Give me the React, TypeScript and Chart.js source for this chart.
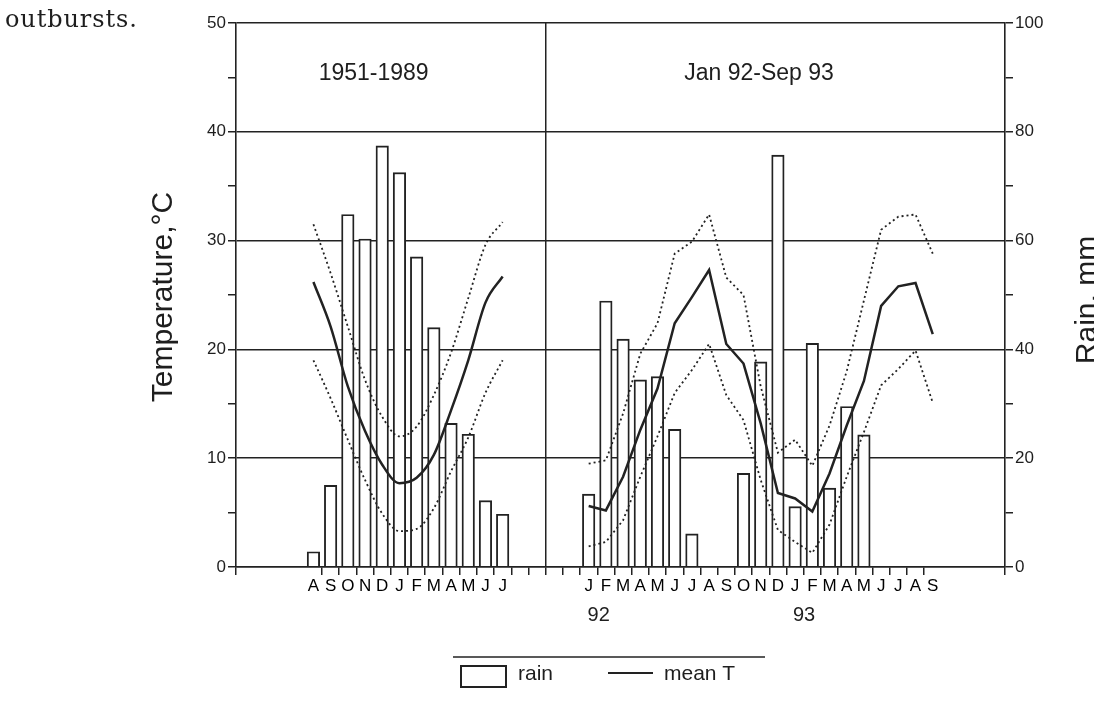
import React, { useEffect, useRef } from 'react';
import { Chart, registerables } from 'chart.js';

Chart.register(...registerables);

// ---- Data ----
const monthsLeft = ['A', 'S', 'O', 'N', 'D', 'J', 'F', 'M', 'A', 'M', 'J', 'J'];
const rainLeft = [2.8, 15.0, 64.8, 60.3, 77.4, 72.5, 57.0, 44.0, 26.4, 24.4, 12.2, 9.7];
const meanTLeft = [26.2, 22.1, 16.6, 12.5, 9.4, 7.7, 8.2, 10.3, 14.4, 19.0, 24.3, 26.7];
const maxTLeft = [31.5, 27.0, 22.1, 17.2, 13.8, 12.0, 12.9, 15.8, 19.7, 24.7, 29.6, 31.7];
const minTLeft = [19.0, 15.5, 11.7, 8.0, 4.9, 3.3, 3.5, 5.4, 8.8, 11.9, 16.0, 19.0];

const monthsRight = ['J', 'F', 'M', 'A', 'M', 'J', 'J', 'A', 'S', 'O', 'N', 'D', 'J', 'F', 'M', 'A', 'M', 'J', 'J', 'A', 'S'];
const rainRight = [13.4, 48.9, 41.9, 34.4, 35.0, 25.3, 6.1, null, null, 17.2, 37.7, 75.7, 11.1, 41.1, 14.5, 29.5, 24.3, null, null, null, null];
const meanTRight = [5.6, 5.2, 8.3, 12.6, 16.4, 22.4, 24.8, 27.3, 20.5, 18.7, 13.2, 6.8, 6.3, 5.1, 8.6, 13.0, 17.1, 24.0, 25.8, 26.1, 21.4];
const maxTRight = [9.5, 9.8, 14.1, 19.6, 22.4, 28.8, 29.9, 32.4, 26.6, 25.0, 16.6, 10.5, 11.7, 9.3, 13.0, 18.0, 24.5, 31.0, 32.2, 32.4, 28.8];
const minTRight = [1.9, 2.3, 4.3, 8.3, 12.0, 16.0, 18.1, 20.5, 15.8, 13.5, 8.0, 3.4, 2.3, 1.3, 3.9, 8.3, 12.4, 16.7, 18.2, 19.9, 15.1];

const tempTicks = [0, 5, 10, 15, 20, 25, 30, 35, 40, 45, 50];
const rainTicks = [0, 10, 20, 30, 40, 50, 60, 70, 80, 90, 100];
const panelTitles = ['1951-1989', 'Jan 92-Sep 93'];
const yearLabels = ['92', '93'];

// ---- Axis layout (month units) ----
const X_MAX = 44.7;
const LEFT_START = 4.5;
const RIGHT_START = 20.5;
const DIVIDER = 18;

const INK = '#222222';
const SANS = '"Liberation Sans", Arial, Helvetica, sans-serif';

const leftXs = monthsLeft.map((_, i) => LEFT_START + i);
const rightXs = monthsRight.map((_, i) => RIGHT_START + i);

const labelMap = new Map<number, string>();
monthsLeft.forEach((m, i) => labelMap.set(Math.round(leftXs[i] * 10), m));
monthsRight.forEach((m, i) => labelMap.set(Math.round(rightXs[i] * 10), m));

const xTicks: number[] = [0];
for (let v = 5; v <= 40; v++) xTicks.push(v);
xTicks.push(X_MAX);
leftXs.forEach((v) => xTicks.push(v));
rightXs.forEach((v) => xTicks.push(v));
xTicks.sort((a, b) => a - b);

const isHalf = (v: number) => Math.abs(v - Math.floor(v) - 0.5) < 1e-6;

const pts = (xs: number[], ys: (number | null)[]) =>
  xs.map((x, i) => ({ x, y: ys[i] })).filter((p) => p.y !== null);

const textPlugin = {
  id: 'extraText',
  afterDraw(chart: any) {
    const ctx = chart.ctx;
    const xs = chart.scales.x;
    ctx.save();
    ctx.fillStyle = '#1e1e1e';
    // top-left fragment of running text
    ctx.font = '24px "DejaVu Serif", "Liberation Serif", serif';
    ctx.textAlign = 'left';
    ctx.textBaseline = 'alphabetic';
    (ctx as any).letterSpacing = '0.9px';
    ctx.fillText('outbursts.', 5, 27);
    (ctx as any).letterSpacing = '0px';

    // axis titles
    ctx.font = `30px ${SANS}`;
    ctx.textAlign = 'center';
    ctx.textBaseline = 'middle';
    ctx.save();
    ctx.translate(164, 297);
    ctx.rotate(-Math.PI / 2);
    ctx.fillText('Temperature,°C', 0, 0);
    ctx.restore();
    ctx.save();
    ctx.translate(1088, 300);
    ctx.rotate(-Math.PI / 2);
    ctx.fillText('Rain, mm', 0, 0);
    ctx.restore();

    // panel titles
    ctx.font = `23px ${SANS}`;
    ctx.textBaseline = 'alphabetic';
    ctx.fillText(panelTitles[0], xs.getPixelForValue(8.0), 80);
    ctx.fillText(panelTitles[1], xs.getPixelForValue(30.4), 80);

    // year labels under the months
    ctx.font = `20px ${SANS}`;
    ctx.textBaseline = 'middle';
    ctx.fillText(yearLabels[0], xs.getPixelForValue(rightXs[0]) + 10, 615);
    ctx.fillText(yearLabels[1], xs.getPixelForValue(rightXs[12]) + 9, 615);

    // legend
    ctx.strokeStyle = INK;
    ctx.lineWidth = 1.5;
    ctx.beginPath();
    ctx.moveTo(453, 657);
    ctx.lineTo(765, 657);
    ctx.stroke();
    ctx.lineWidth = 2;
    ctx.strokeRect(461, 666, 45, 21);
    ctx.beginPath();
    ctx.moveTo(608, 673);
    ctx.lineTo(653, 673);
    ctx.stroke();
    ctx.font = `21px ${SANS}`;
    ctx.textAlign = 'left';
    ctx.textBaseline = 'middle';
    ctx.fillText('rain', 518, 674);
    ctx.fillText('mean T', 664, 674);
    ctx.restore();
  },
};

export default function App() {
  const ref = useRef<HTMLCanvasElement | null>(null);

  useEffect(() => {
    if (!ref.current) return;
    const lineBase = (data: any, dotted: boolean, smooth: boolean) => ({
      type: 'line' as const,
      data,
      yAxisID: 'y',
      xAxisID: 'x',
      borderColor: INK,
      borderWidth: dotted ? 1.8 : 2.5,
      borderDash: dotted ? [2, 3] : [],
      pointRadius: 0,
      fill: false,
      tension: smooth ? 0.4 : 0,
      cubicInterpolationMode: smooth ? ('monotone' as const) : ('default' as const),
      order: 1,
    });

    const chart = new Chart(ref.current, {
      type: 'bar',
      data: {
        datasets: [
          {
            type: 'bar',
            label: 'rain',
            data: [...pts(leftXs, rainLeft), ...pts(rightXs, rainRight)] as any,
            yAxisID: 'y2',
            xAxisID: 'x',
            backgroundColor: '#ffffff',
            borderColor: INK,
            borderWidth: 1.9,
            barThickness: 12.5,
            grouped: false,
            order: 2,
          } as any,
          lineBase(pts(leftXs, meanTLeft), false, true),
          lineBase(pts(leftXs, maxTLeft), true, true),
          lineBase(pts(leftXs, minTLeft), true, true),
          lineBase(pts(rightXs, meanTRight), false, false),
          lineBase(pts(rightXs, maxTRight), true, false),
          lineBase(pts(rightXs, minTRight), true, false),
        ],
      },
      options: {
        animation: false,
        responsive: false,
        devicePixelRatio: 1,
        layout: { padding: { top: 23, left: 0, right: 0, bottom: 0 } },
        plugins: { legend: { display: false }, tooltip: { enabled: false } },
        scales: {
          x: {
            type: 'linear',
            position: 'bottom',
            min: 0,
            max: X_MAX,
            offset: false,
            afterBuildTicks: (s: any) => {
              s.ticks = xTicks.map((v) => ({ value: v }));
            },
            afterFit: (s: any) => {
              s.height = 134;
            },
            grid: {
              offset: false,
              drawOnChartArea: true,
              color: (c: any) => (c.tick && Math.abs(c.tick.value - DIVIDER) < 1e-6 ? INK : 'rgba(0,0,0,0)'),
              tickColor: (c: any) => (c.tick && isHalf(c.tick.value) ? 'rgba(0,0,0,0)' : INK),
              lineWidth: 1.5,
              tickLength: 8,
            },
            border: { display: true, color: INK, width: 1.6, z: 1 } as any,
            ticks: {
              autoSkip: false,
              maxRotation: 0,
              minRotation: 0,
              padding: 1,
              color: '#000',
              font: { family: SANS, size: 17 },
              callback: (v: any) => labelMap.get(Math.round(Number(v) * 10)) ?? '',
            },
          },
          y: {
            type: 'linear',
            position: 'left',
            min: 0,
            max: 50,
            afterBuildTicks: (s: any) => {
              s.ticks = tempTicks.map((v) => ({ value: v }));
            },
            afterFit: (s: any) => {
              s.width = 236;
            },
            grid: {
              color: (c: any) => (c.tick && c.tick.value % 10 === 0 ? INK : 'rgba(0,0,0,0)'),
              tickColor: INK,
              lineWidth: 1.5,
              tickLength: 8,
            },
            border: { display: true, color: INK, width: 1.6 },
            ticks: {
              padding: 2,
              color: '#1e1e1e',
              font: { family: SANS, size: 17 },
              callback: (v: any) => (Number(v) % 10 === 0 ? String(v) : ''),
            },
          },
          y2: {
            type: 'linear',
            position: 'right',
            min: 0,
            max: 100,
            afterBuildTicks: (s: any) => {
              s.ticks = rainTicks.map((v) => ({ value: v }));
            },
            afterFit: (s: any) => {
              s.width = 89;
            },
            grid: {
              drawOnChartArea: false,
              tickColor: INK,
              lineWidth: 1.5,
              tickLength: 8,
            },
            border: { display: true, color: INK, width: 1.6 },
            ticks: {
              padding: 2,
              color: '#1e1e1e',
              font: { family: SANS, size: 17 },
              callback: (v: any) => (Number(v) % 20 === 0 ? String(v) : ''),
            },
          },
        },
      },
      plugins: [textPlugin],
    });
    return () => chart.destroy();
  }, []);

  return (
    <div style={{ position: 'absolute', left: 0, top: 0, width: 1094, height: 701, background: '#fff' }}>
      <canvas ref={ref} width={1094} height={701} style={{ display: 'block', width: 1094, height: 701 }} />
    </div>
  );
}
